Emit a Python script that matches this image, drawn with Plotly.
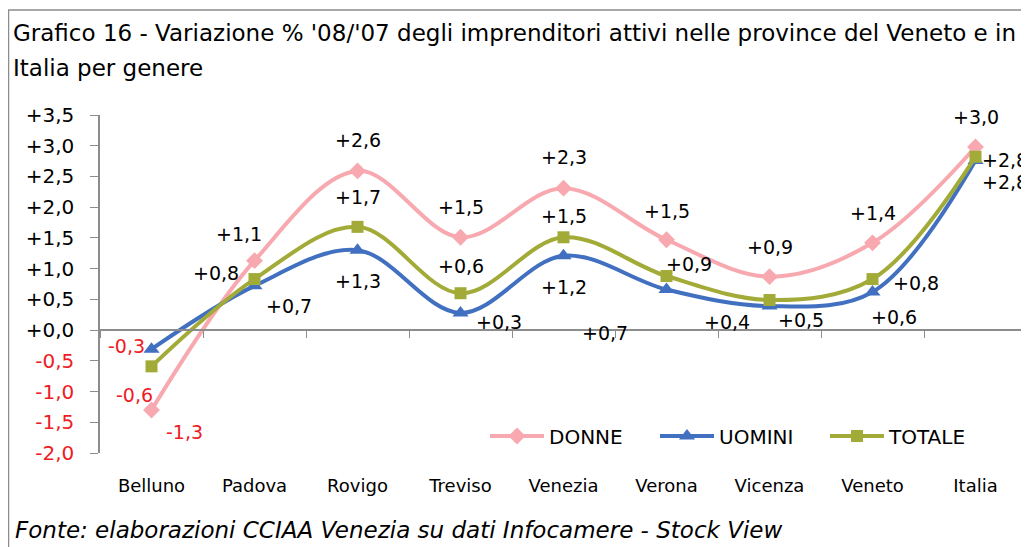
import plotly.graph_objects as go

categories = ["Belluno", "Padova", "Rovigo", "Treviso", "Venezia", "Verona", "Vicenza", "Veneto", "Italia"]
donne = [-1.30, 1.13, 2.59, 1.51, 2.31, 1.47, 0.87, 1.42, 2.98]
uomini = [-0.31, 0.72, 1.30, 0.28, 1.21, 0.66, 0.39, 0.62, 2.76]
totale = [-0.59, 0.83, 1.68, 0.60, 1.51, 0.88, 0.49, 0.83, 2.82]
ytick_vals = [3.5, 3.0, 2.5, 2.0, 1.5, 1.0, 0.5, 0.0, -0.5, -1.0, -1.5, -2.0]

title1 = "Grafico 16 - Variazione % '08/'07 degli imprenditori attivi nelle province del Veneto e in"
title2 = "Italia per genere"
source = "Fonte: elaborazioni CCIAA Venezia su dati Infocamere - Stock View"

FONT = "DejaVu Sans"
RED = "#EE1C24"
PINK = "#F7A9AF"
BLUE = "#4170C0"
OLIVE = "#A3AB38"
AXIS = "#8C8C8C"

# label offsets (px) per series per point: (dx, dy) with dy positive downward
off_d = [(33, 22), (-16, -27), (0, -31), (0, -30), (0, -31), (0, -29), (0, -30), (0, -30), (0, -30)]
off_u = [(-25, -3), (34, 20), (0, 31), (38, 9), (0, 31), (-62, 43), (-43, 16), (21, 25), (29, 22)]
off_t = [(-17, 29), (-39, -6), (0, -30), (0, -27), (0, -21), (22, -12), (31, 20), (43, 4), (29, 3)]


def fmt(v):
    s = f"{abs(v):.1f}".replace(".", ",")
    return ("-" if v < 0 else "+") + s


def tick_label(v):
    t = fmt(v)
    if v < 0:
        return f'<span style="color:{RED}">{t}</span>'
    return t


fig = go.Figure()
series = [
    ("DONNE", donne, PINK, "diamond", 13, off_d),
    ("UOMINI", uomini, BLUE, "triangle-up", 14, off_u),
    ("TOTALE", totale, OLIVE, "square", 12, off_t),
]
for name, vals, col, sym, sz, _ in series:
    fig.add_trace(go.Scatter(
        x=categories, y=vals, name=name, mode="lines+markers",
        line=dict(color=col, width=4, shape="spline", smoothing=1.0),
        marker=dict(symbol=sym, size=sz, color=col),
    ))

# invisible trace on the zero-crossing axis
fig.add_trace(go.Scatter(x=categories, y=[None] * len(categories), xaxis="x2",
                         showlegend=False, hoverinfo="skip"))

annotations = []
for name, vals, col, sym, sz, offs in series:
    for c, v, (dx, dy) in zip(categories, vals, offs):
        annotations.append(dict(
            x=c, y=v, xref="x", yref="y", text=fmt(v), showarrow=False,
            xshift=dx, yshift=-dy,
            font=dict(family=FONT, size=19, color=RED if v < 0 else "black"),
        ))

H = 338.0
def py(p):
    return (453 - p) / H
def px(p):
    return (p - 100) / 927.0

annotations.append(dict(text=title1, x=px(11), y=py(33), xref="paper", yref="paper",
                        xanchor="left", yanchor="middle", showarrow=False,
                        font=dict(family=FONT, size=23, color="black")))
annotations.append(dict(text=title2, x=px(11), y=py(68), xref="paper", yref="paper",
                        xanchor="left", yanchor="middle", showarrow=False,
                        font=dict(family=FONT, size=23, color="black")))
annotations.append(dict(text="<i>" + source + "</i>", x=px(13), y=py(530), xref="paper", yref="paper",
                        xanchor="left", yanchor="middle", showarrow=False,
                        font=dict(family=FONT, size=23, color="black")))

fig.update_layout(
    width=1021, height=539,
    margin=dict(l=92, r=2, t=107, b=94),
    paper_bgcolor="white", plot_bgcolor="white",
    showlegend=True,
    legend=dict(orientation="h", x=px(485), y=py(436), xanchor="left", yanchor="middle",
                font=dict(family=FONT, size=20, color="black"), itemwidth=54,
                entrywidth=101, entrywidthmode="pixels",
                bgcolor="rgba(0,0,0,0)"),
    annotations=annotations,
    shapes=[dict(type="rect", xref="paper", yref="paper",
                 x0=px(8.5), x1=px(1060), y0=py(580), y1=py(10),
                 line=dict(color=AXIS, width=1.5), layer="below")],
    xaxis=dict(type="category", categoryorder="array", categoryarray=categories,
               range=[-0.5, 8.5], showgrid=False, zeroline=False, showline=False,
               ticks="outside", ticklen=16, tickcolor="rgba(0,0,0,0)",
               tickfont=dict(family=FONT, size=18, color="black")),
    xaxis2=dict(type="category", categoryorder="array", categoryarray=categories,
                range=[-0.5, 8.5], overlaying="x", anchor="free", position=2 / 5.5,
                side="bottom", showline=True, linecolor=AXIS, linewidth=1.5,
                ticks="outside", tickson="boundaries", ticklen=7, tickcolor=AXIS,
                showticklabels=False, showgrid=False, zeroline=False),
    yaxis=dict(range=[-2.0, 3.5], tickvals=ytick_vals,
               ticktext=[tick_label(v) for v in ytick_vals],
               showgrid=False, zeroline=False, showline=True, linecolor=AXIS, linewidth=1.5,
               ticks="outside", ticklen=8, tickcolor=AXIS, ticklabelstandoff=12,
               tickfont=dict(family=FONT, size=20, color="black")),
)

fig.write_html("out.html")
